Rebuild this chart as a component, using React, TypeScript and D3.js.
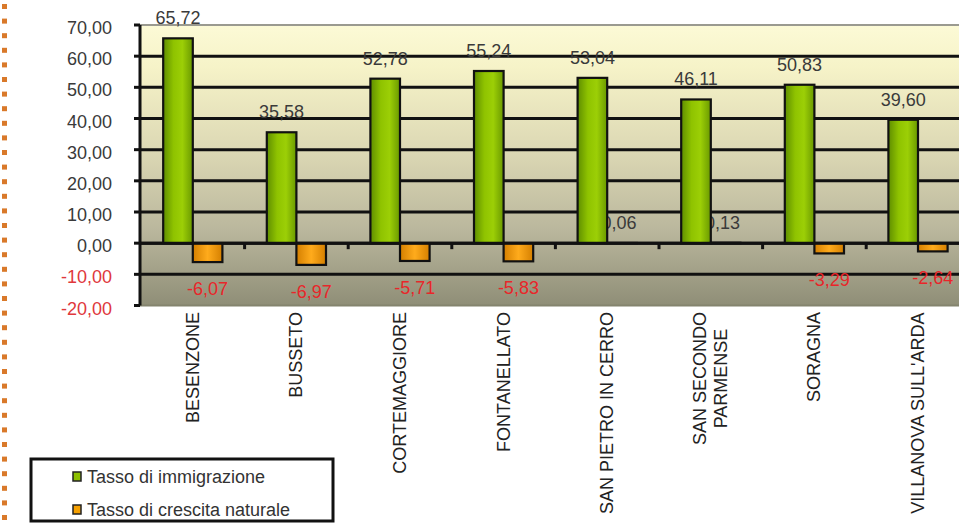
import React from "react";
import * as d3 from "d3";

const categories: string[] = [
  "BESENZONE",
  "BUSSETO",
  "CORTEMAGGIORE",
  "FONTANELLATO",
  "SAN PIETRO IN CERRO",
  "SAN SECONDO\nPARMENSE",
  "SORAGNA",
  "VILLANOVA SULL'ARDA",
];
const immigrazione: number[] = [65.72, 35.58, 52.78, 55.24, 53.04, 46.11, 50.83, 39.6];
const crescita: number[] = [-6.07, -6.97, -5.71, -5.83, 0.06, 0.13, -3.29, -2.64];
const yTicks: number[] = [70, 60, 50, 40, 30, 20, 10, 0, -10, -20];
const seriesNames: string[] = ["Tasso di immigrazione", "Tasso di crescita naturale"];

const W = 959;
const H = 523;
const FONT = "'Liberation Sans', Arial, sans-serif";
const FS = 18;

const fmt = (v: number) => d3.format(".2f")(v).replace(".", ",").replace("\u2212", "-");

let ctx: CanvasRenderingContext2D | null = null;
function measure(t: string) {
  if (!ctx) {
    const c = document.createElement("canvas");
    ctx = c.getContext("2d");
  }
  if (!ctx) return t.length * 10;
  ctx.font = `${FS}px ${FONT}`;
  return ctx.measureText(t).width;
}

export default function App() {
  const plotLeft = 140;
  const plotTop = 25;
  const plotBottom = 305.5;
  const bandW = 103.6;
  const x = d3
    .scaleBand<string>()
    .domain(categories)
    .range([141, 141 + bandW * categories.length])
    .paddingInner(0)
    .paddingOuter(0);
  const sub = d3
    .scaleBand<string>()
    .domain(["g", "o"])
    .range([0, x.bandwidth()])
    .paddingInner(0)
    .paddingOuter(0.75);
  const y = d3.scaleLinear().domain([-20, 70]).range([plotBottom, plotTop]);
  const y0 = y(0);

  const dots = d3.range(4, H, 14.6);

  return (
    <svg width={W} height={H} style={{ position: "absolute", left: 0, top: 0, background: "#fff" }}>
      <defs>
        <linearGradient id="bg" x1="0" y1="0" x2="0" y2="1">
          <stop offset="0" stopColor="#fcfad6" />
          <stop offset="0.15" stopColor="#f6f3c8" />
          <stop offset="0.45" stopColor="#dcd8b4" />
          <stop offset="0.73" stopColor="#bab79d" />
          <stop offset="1" stopColor="#8f8e77" />
        </linearGradient>
        <linearGradient id="gg" x1="0" y1="0" x2="1" y2="0">
          <stop offset="0" stopColor="#5f8e00" />
          <stop offset="0.35" stopColor="#8fc300" />
          <stop offset="0.65" stopColor="#9ccf06" />
          <stop offset="1" stopColor="#6a9900" />
        </linearGradient>
        <linearGradient id="og" x1="0" y1="0" x2="1" y2="0">
          <stop offset="0" stopColor="#d47f00" />
          <stop offset="0.5" stopColor="#ffab1c" />
          <stop offset="1" stopColor="#d47f00" />
        </linearGradient>
      </defs>

      {dots.map((d, i) => (
        <rect key={"dot" + i} x={2} y={d} width={5} height={5} fill="#d9792a" />
      ))}

      <rect x={plotLeft} y={plotTop} width={W - plotLeft + 20} height={plotBottom - plotTop} fill="url(#bg)" />
      <line x1={plotLeft} x2={W + 20} y1={plotTop} y2={plotTop} stroke="#9a9a90" strokeWidth={2} />
      <line x1={plotLeft} x2={W + 20} y1={plotBottom} y2={plotBottom} stroke="#84846e" strokeWidth={2} />

      {yTicks
        .filter((t) => t !== 70 && t !== -20)
        .map((t) => (
          <line key={"g" + t} x1={plotLeft} x2={W + 20} y1={y(t)} y2={y(t)} stroke="#111" strokeWidth={3} />
        ))}

      {/* y axis */}
      <line x1={plotLeft} x2={plotLeft} y1={plotTop} y2={plotBottom} stroke="#111" strokeWidth={3} />
      {yTicks.map((t) => (
        <g key={"yt" + t}>
          <line x1={plotLeft - 6} x2={plotLeft} y1={y(t)} y2={y(t)} stroke="#111" strokeWidth={3} />
          <text
            x={112}
            y={y(t) + 3}
            textAnchor="end"
            dominantBaseline="central"
            fontFamily={FONT}
            fontSize={FS}
            fill={t < 0 ? "#e0383c" : "#3a3a3a"}
          >
            {fmt(t)}
          </text>
        </g>
      ))}

      {/* x ticks at category boundaries */}
      {categories.slice(1).map((c) => (
        <line key={"xt" + c} x1={x(c)!} x2={x(c)!} y1={y0} y2={y0 + 6} stroke="#111" strokeWidth={3} />
      ))}

      {/* orange labels for positive values (drawn beneath bars) */}
      {crescita.map((v, i) =>
        v >= 0 ? (
          <text
            key={"ol" + i}
            x={x(categories[i])! + sub("o")! + sub.bandwidth() / 2 - 3}
            y={y(v) - 14}
            textAnchor="middle"
            fontFamily={FONT}
            fontSize={FS}
            fill="#3a3a3a"
          >
            {fmt(v)}
          </text>
        ) : null
      )}

      {/* bars */}
      {immigrazione.map((v, i) => (
        <rect
          key={"gb" + i}
          x={x(categories[i])! + sub("g")!}
          y={y(v)}
          width={sub.bandwidth()}
          height={y0 - y(v)}
          fill="url(#gg)"
          stroke="#111"
          strokeWidth={2.2}
        />
      ))}
      {crescita.map((v, i) => (
        <rect
          key={"ob" + i}
          x={x(categories[i])! + sub("o")!}
          y={Math.min(y(v), y0)}
          width={sub.bandwidth()}
          height={Math.abs(y(v) - y0)}
          fill="url(#og)"
          stroke="#111"
          strokeWidth={2.2}
        />
      ))}
      <line x1={plotLeft} x2={W + 20} y1={y0} y2={y0} stroke="#111" strokeWidth={3} />

      {/* green labels */}
      {immigrazione.map((v, i) => (
        <text
          key={"gl" + i}
          x={x(categories[i])! + sub("g")! + sub.bandwidth() / 2}
          y={y(v) - 14}
          textAnchor="middle"
          fontFamily={FONT}
          fontSize={FS}
          fill="#3a3a3a"
        >
          {fmt(v)}
        </text>
      ))}
      {/* negative orange labels */}
      {crescita.map((v, i) =>
        v < 0 ? (
          <text
            key={"nl" + i}
            x={x(categories[i])! + sub("o")! + sub.bandwidth() / 2}
            y={y(v) + 33}
            textAnchor="middle"
            fontFamily={FONT}
            fontSize={FS}
            fill="#e8262a"
          >
            {fmt(v)}
          </text>
        ) : null
      )}

      {/* category labels */}
      {categories.map((c) => {
        const lines = c.split("\n");
        const cx = x(c)! + x.bandwidth() / 2;
        const maxLen = d3.max(lines, (l) => measure(l)) || 0;
        const lh = 21;
        return (
          <g key={"cl" + c} transform={`translate(${cx},312) rotate(-90)`}>
            {lines.map((l, j) => (
              <text
                key={j}
                x={-maxLen / 2}
                y={(j - (lines.length - 1) / 2) * lh}
                textAnchor="middle"
                dominantBaseline="central"
                fontFamily={FONT}
                fontSize={FS}
                fill="#222"
              >
                {l}
              </text>
            ))}
          </g>
        );
      })}

      {/* legend */}
      <rect x={31} y={459} width={302} height={62} fill="#fff" stroke="#111" strokeWidth={3} />
      {seriesNames.map((s, i) => (
        <g key={"lg" + s}>
          <rect
            x={73}
            y={472 + i * 33}
            width={8}
            height={9}
            fill={i === 0 ? "#8cc000" : "#f5a000"}
            stroke="#222"
            strokeWidth={1.5}
          />
          <text x={87} y={483 + i * 33} fontFamily={FONT} fontSize={FS} fill="#333">
            {s}
          </text>
        </g>
      ))}
    </svg>
  );
}
